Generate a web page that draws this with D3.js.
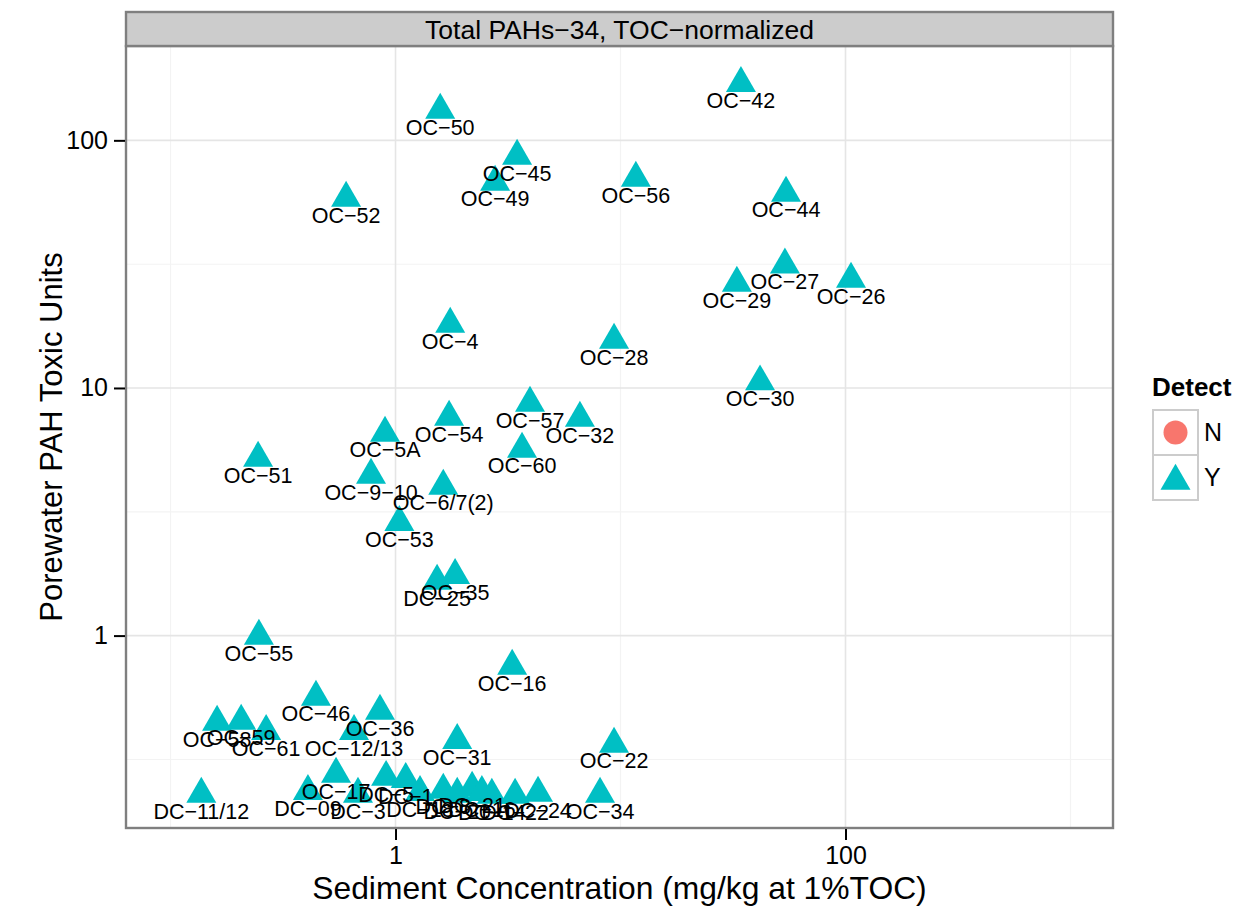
<!DOCTYPE html>
<html>
<head>
<meta charset="utf-8">
<script src="https://cdn.jsdelivr.net/npm/d3@7"></script>
<style>
  html, body { margin: 0; padding: 0; background: #fff; }
  svg { display: block; font-family: "Liberation Sans", Arial, Helvetica, sans-serif; }
</style>
</head>
<body>
<svg id="chart" width="1240" height="914"></svg>
<script>
// ---- data ----
const stations = ["OC-42","OC-50","OC-45","OC-49","OC-56","OC-52","OC-44","OC-27","OC-29","OC-26",
  "OC-4","OC-28","OC-30","OC-57","OC-32","OC-54","OC-5A","OC-60","OC-51","OC-9-10",
  "OC-6/7(2)","OC-53","DC-25","OC-35","OC-55","OC-16","OC-46","OC-36","OC-12/13","OC-58",
  "OC-59","OC-61","OC-31","OC-22","DC-11/12","OC-34",
  "DC-09","OC-17","DC-3","DC-5","DC-1","DC-18","DC-8","DC-20","DC-21","DC-16","DC-14","DC-22","DC-24"];
const sedimentConc = [34.3,1.58,3.47,2.77,11.7,0.603,54.4,53.8,32.9,105.8,
  1.75,9.36,41.7,3.96,6.6,1.73,0.898,3.65,0.245,0.778,
  1.63,1.04,1.53,1.84,0.247,3.3,0.443,0.853,0.654,0.161,
  0.206,0.266,1.88,9.36,0.137,8.11,
  0.408,0.544,0.681,0.908,1.11,1.285,1.63,1.88,2.19,2.42,2.68,3.4,4.3];
const toxicUnits = [170,132.6,86.4,67.9,70.4,58.5,61.3,31.4,26.5,27.5,
  18.1,15.6,10.6,8.69,7.56,7.63,6.58,5.67,5.21,4.45,
  4.02,2.87,1.66,1.75,0.995,0.753,0.565,0.496,0.411,0.447,
  0.452,0.411,0.378,0.365,0.229,0.229,
  0.235,0.276,0.229,0.268,0.263,0.233,0.238,0.229,0.242,0.233,0.227,0.227,0.231];
const detect = stations.map(() => "Y");
const xTicks = [1, 100];
const yTicks = [1, 10, 100];
const xMinor = [0.1, 10, 1000];
const yMinor = [0.316, 3.16, 31.6];
const legendLevels = ["N", "Y"];
const legendColors = ["#F8766D", "#00BFC4"];
const stripTitle = "Total PAHs\u221234, TOC\u2212normalized";
const xTitle = "Sediment Concentration (mg/kg at 1%TOC)";
const yTitle = "Porewater PAH Toxic Units";

const data = stations.map((s, i) => ({ name: s, x: sedimentConc[i], y: toxicUnits[i], d: detect[i] }));

// ---- layout ----
const P = { left: 126, right: 1113, top: 46, bottom: 828 };
const svg = d3.select("#chart");

const x = d3.scaleLog().domain([Math.pow(10, -1.198), Math.pow(10, 3.189)]).range([P.left, P.right]);
const y = d3.scaleLog().domain([Math.pow(10, -0.777), Math.pow(10, 2.381)]).range([P.bottom, P.top]);
const color = d3.scaleOrdinal().domain(legendLevels).range(legendColors);

// panel background
svg.append("rect").attr("x", P.left).attr("y", P.top).attr("width", P.right - P.left).attr("height", P.bottom - P.top).attr("fill", "#fff");

// minor grid
const g = svg.append("g");
g.selectAll(".vmin").data(xMinor).join("line")
  .attr("x1", d => x(d)).attr("x2", d => x(d)).attr("y1", P.top).attr("y2", P.bottom)
  .attr("stroke", "#F3F3F3").attr("stroke-width", 1.2);
g.selectAll(".hmin").data(yMinor).join("line")
  .attr("y1", d => y(d)).attr("y2", d => y(d)).attr("x1", P.left).attr("x2", P.right)
  .attr("stroke", "#F3F3F3").attr("stroke-width", 1.2);
// major grid
g.selectAll(".vmaj").data(xTicks).join("line")
  .attr("x1", d => x(d)).attr("x2", d => x(d)).attr("y1", P.top).attr("y2", P.bottom)
  .attr("stroke", "#E5E5E5").attr("stroke-width", 1.6);
g.selectAll(".hmaj").data(yTicks).join("line")
  .attr("y1", d => y(d)).attr("y2", d => y(d)).attr("x1", P.left).attr("x2", P.right)
  .attr("stroke", "#E5E5E5").attr("stroke-width", 1.6);

// points
const tri = d3.symbol().type(d3.symbolTriangle).size(390);
svg.append("g").selectAll("path").data(data).join("path")
  .attr("d", tri)
  .attr("transform", d => `translate(${x(d.x)},${y(d.y)})`)
  .attr("fill", d => color(d.d));

// labels
svg.append("g").selectAll("text").data(data).join("text")
  .attr("x", d => x(d.x)).attr("y", d => y(d.y) + 24.5)
  .attr("text-anchor", "middle")
  .attr("font-size", 21.5).attr("fill", "#000")
  .text(d => d.name.replace(/-/g, "\u2212"));

// panel border
svg.append("rect").attr("x", P.left).attr("y", P.top).attr("width", P.right - P.left).attr("height", P.bottom - P.top)
  .attr("fill", "none").attr("stroke", "#7F7F7F").attr("stroke-width", 2.4);

// strip
svg.append("rect").attr("x", P.left).attr("y", 12).attr("width", P.right - P.left).attr("height", P.top - 12)
  .attr("fill", "#CCCCCC").attr("stroke", "#7F7F7F").attr("stroke-width", 2.4);
svg.append("text").attr("x", (P.left + P.right) / 2).attr("y", 38.5).attr("text-anchor", "middle")
  .attr("font-size", 26.5).attr("fill", "#000").text(stripTitle);

// axes
const fmt = d => d3.format("~g")(d);
const xAxis = d3.axisBottom(x).tickValues(xTicks).tickFormat(fmt).tickSize(11).tickPadding(6);
const yAxis = d3.axisLeft(y).tickValues(yTicks).tickFormat(fmt).tickSize(11).tickPadding(6);
const gx = svg.append("g").attr("transform", `translate(0,${P.bottom + 1})`).call(xAxis);
const gy = svg.append("g").attr("transform", `translate(${P.left - 1},0)`).call(yAxis);
[gx, gy].forEach(a => {
  a.select(".domain").remove();
  a.selectAll(".tick line").attr("stroke", "#000").attr("stroke-width", 2);
  a.selectAll(".tick text").attr("font-size", 25).attr("fill", "#000")
    .attr("font-family", "'Liberation Sans', Arial, sans-serif");
});

// axis titles
svg.append("text").attr("x", (P.left + P.right) / 2).attr("y", 899).attr("text-anchor", "middle")
  .attr("font-size", 31.8).attr("fill", "#000").text(xTitle);
svg.append("text").attr("transform", `translate(62,${(P.top + P.bottom) / 2}) rotate(-90)`)
  .attr("text-anchor", "middle").attr("font-size", 31).attr("fill", "#000").text(yTitle);

// legend
const L = svg.append("g");
L.append("text").attr("x", 1152).attr("y", 396).attr("font-size", 26).attr("font-weight", "bold").attr("fill", "#000").text("Detect");
legendLevels.forEach((lv, i) => {
  const ky = 410 + i * 45;
  L.append("rect").attr("x", 1153).attr("y", ky).attr("width", 45).attr("height", 45)
    .attr("fill", "#fff").attr("stroke", "#CCCCCC").attr("stroke-width", 2);
  if (i === 0) {
    L.append("circle").attr("cx", 1175.5).attr("cy", ky + 22.5).attr("r", 12).attr("fill", color(lv));
  } else {
    L.append("path").attr("d", tri).attr("transform", `translate(1175.5,${ky + 26})`).attr("fill", color(lv));
  }
  L.append("text").attr("x", 1204).attr("y", ky + 31).attr("font-size", 25).attr("fill", "#000").text(lv);
});
</script>
</body>
</html>
